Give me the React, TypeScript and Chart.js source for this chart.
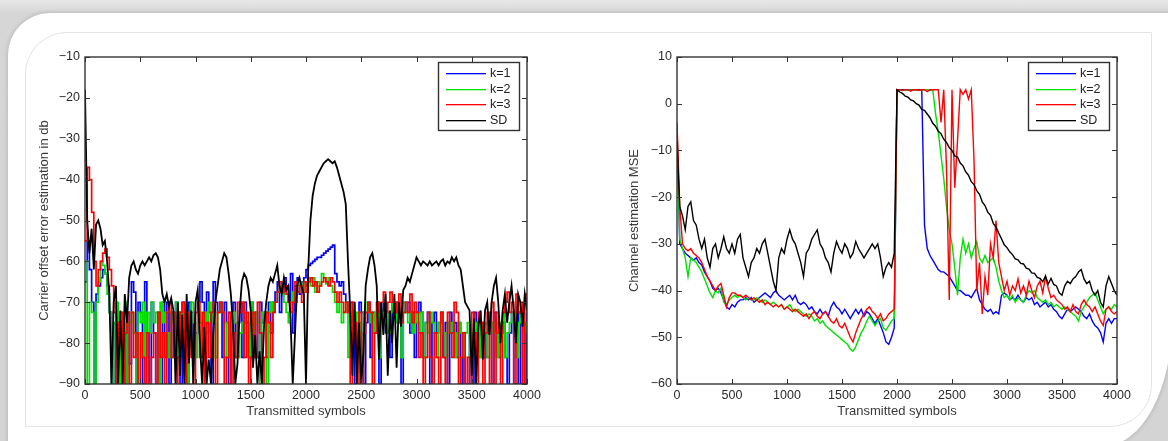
import React, { useEffect, useRef } from 'react';
import { Chart, registerables } from 'chart.js';

Chart.register(...registerables);
Chart.defaults.font.family = '"Liberation Sans", Arial, Helvetica, sans-serif';

// ---------- shared ----------
const SERIES_LABELS = ['k=1', 'k=2', 'k=3', 'SD'];
const SERIES_COLORS = ['rgb(0,0,255)', 'rgb(0,224,0)', 'rgb(255,0,0)', 'rgb(0,0,0)'];
const X_TITLE = 'Transmitted symbols';
const LEFT_X_STEP = 20; // symbols between samples, left panel
const RIGHT_X_STEP = 25; // symbols between samples, right panel

// ---------- left chart: carrier offset error (dB), one value every 20 symbols ----------
const LEFT_Y_TITLE = 'Carrier offset error estimation in db';
const LEFT_K1 = [
  -65, -55, -62,
  -70, -90, -68, -66, -64, -62, -63, -66,
  -72.5, -90, -75, -90, -77.5, -90, -75, -90, -72.5, -85,
  -65, -67.5, -90, -70, -72.5, -90, -65, -77.5, -90, -70,
  -77.5, -90, -72.5, -90, -70, -83.5, -70, -90, -72.5, -83.5,
  -70, -72.5, -90, -70, -75, -90, -70, -72.5, -83.5, -77.5,
  -70, -65, -70, -83.5, -67.5, -72.5, -90, -65, -70, -72.5,
  -70, -83.5, -70, -75, -90, -77.5, -70, -83.5, -75, -70,
  -83.5, -70, -75, -83.5, -70, -83.5, -72.5, -83.5, -70, -75,
  -72.5, -83.5, -70, -77.5, -70, -67.5, -65, -72.5, -68, -64,
  -66, -70, -63, -77.5, -66, -64, -68, -65, -64, -62,
  -61, -60.5, -60, -59.5, -59, -59, -58.5, -58, -57.5, -57, -56.5, -56,
  -63, -65, -66, -65, -68, -70, -72.5, -70,
  -75, -90, -77.5, -70, -72.5, -90, -75, -70, -83.5, -72.5,
  -77.5, -70, -90, -72.5, -70, -77.5, -72.5, -83.5, -70, -72.5,
  -70, -75, -90, -70, -72.5, -70, -77.5, -72.5, -83.5, -72.5,
  -70, -72.5, -83.5, -75, -72.5, -90, -75, -72.5, -77.5, -75,
  -72.5, -83.5, -75, -90, -72.5, -77.5, -75, -83.5, -75, -90,
  -83.5, -90, -90, -77.5, -90, -72.5, -75, -83.5, -77.5, -75,
  -83.5, -77.5, -75, -90, -72.5, -77.5, -83.5, -77.5, -75, -83.5,
  -90, -77.5, -72.5, -90, -90, -72.5, -90, -75, -90, -72.5,
];
const LEFT_K2 = [
  -60, -90, -70,
  -72.5, -90, -70, -65, -60, -61, -63, -68,
  -72.5, -90, -75, -70, -90, -72.5, -83.5, -70, -90, -75,
  -72.5, -77.5, -90, -72.5, -75, -70, -83.5, -72.5, -77.5, -70,
  -75, -72.5, -90, -70, -75, -72.5, -77.5, -83.5, -72.5, -75,
  -70, -83.5, -72.5, -77.5, -75, -90, -72.5, -70, -75, -83.5,
  -72.5, -75, -83.5, -72.5, -77.5, -70, -72.5, -75, -83.5, -72.5,
  -70, -72.5, -83.5, -75, -72.5, -77.5, -72.5, -75, -83.5, -77.5,
  -75, -72.5, -77.5, -83.5, -70, -77.5, -72.5, -75, -90, -72.5,
  -75, -90, -72.5, -70, -72.5, -70, -67.5, -66, -68, -70,
  -72.5, -75, -70, -67.5, -70, -66, -65, -67.5, -65, -66,
  -64, -66, -64, -67.5, -65, -66, -63, -64, -65.5, -64, -66, -67.5,
  -70, -72.5, -70, -75, -72.5, -70, -83.5, -72.5,
  -75, -77.5, -72.5, -75, -83.5, -72.5, -70, -72.5, -75, -77.5,
  -72.5, -70, -83.5, -72.5, -75, -72.5, -77.5, -72.5, -70, -72.5,
  -75, -72.5, -83.5, -70, -72.5, -75, -72.5, -77.5, -72.5, -75,
  -77.5, -72.5, -83.5, -75, -77.5, -72.5, -75, -77.5, -83.5, -75,
  -72.5, -77.5, -83.5, -75, -77.5, -75, -83.5, -77.5, -75, -77.5,
  -83.5, -77.5, -75, -83.5, -77.5, -75, -77.5, -83.5, -75, -77.5,
  -75, -83.5, -77.5, -75, -77.5, -83.5, -75, -77.5, -72.5, -83.5,
  -77.5, -75, -72.5, -77.5, -83.5, -75, -72.5, -77.5, -75, -77.5,
];
const LEFT_K3 = [
  -55, -37, -40,
  -48, -60, -66, -62, -60, -58, -57, -59,
  -62, -66, -72.5, -90, -75, -72.5, -90, -77.5, -72.5, -90,
  -72.5, -83.5, -77.5, -90, -77.5, -83.5, -90, -77.5, -90, -83.5,
  -77.5, -90, -72.5, -83.5, -77.5, -90, -72.5, -70, -83.5, -72.5,
  -90, -83.5, -72.5, -70, -90, -77.5, -72.5, -83.5, -90, -72.5,
  -70, -83.5, -72.5, -90, -75, -83.5, -72.5, -70, -90, -72.5,
  -70, -72.5, -90, -83.5, -72.5, -90, -77.5, -83.5, -70, -72.5,
  -70, -83.5, -72.5, -90, -83.5, -72.5, -83.5, -70, -77.5, -90,
  -83.5, -72.5, -75, -83.5, -72.5, -70, -67.5, -65, -67.5, -66,
  -68, -70, -72.5, -70, -65, -67.5, -66, -70, -65, -67.5,
  -65, -64, -66, -65, -67.5, -66, -65, -64, -65, -66, -64, -65,
  -67.5, -70, -67.5, -70, -72.5, -70, -72.5, -90,
  -70, -75, -90, -72.5, -90, -77.5, -72.5, -70, -72.5, -90,
  -77.5, -70, -72.5, -70, -67.5, -72.5, -70, -67.5, -70, -72.5,
  -70, -68, -75, -72.5, -70, -72.5, -68, -75, -70, -72.5,
  -83.5, -77.5, -90, -83.5, -72.5, -83.5, -90, -77.5, -83.5, -90,
  -72.5, -83.5, -90, -72.5, -77.5, -83.5, -70, -72.5, -90, -83.5,
  -77.5, -90, -83.5, -90, -72.5, -77.5, -90, -72.5, -75, -90,
  -77.5, -72.5, -90, -70, -90, -72.5, -77.5, -90, -72.5, -70,
  -67.5, -72.5, -70, -90, -68, -72.5, -70, -90, -68, -72.5,
];
const LEFT_SD = [
  -18, -50, -58,
  -52, -62, -51, -50, -52, -56, -55, -60,
  -68, -90, -70, -66, -90, -72, -90, -68,
  -75, -64,
  -61, -60, -62, -63, -61, -60, -61, -60, -59, -60, -58.5, -58, -59, -62,
  -68, -70, -68, -71, -69, -72,
  -90, -70, -88, -73, -90, -68, -85, -72, -90, -70,
  -67, -80, -90, -76, -90, -84, -90, -78,
  -70, -66, -62, -60, -58, -59, -63, -68,
  -76, -90, -85, -72, -65, -63, -64, -67,
  -72, -86, -78, -90, -82, -90, -76, -70,
  -66, -64, -65, -63, -61, -66, -68, -64, -67, -66, -74, -90, -78, -66, -64, -66, -68,
  -90,
  -62, -50, -44, -41, -39, -38, -37, -36, -35.5, -35, -35.5, -36, -35.5, -37, -39, -41, -43, -46,
  -60, -72, -88, -70, -90, -75, -90, -82, -66, -62,
  -59, -58, -61, -66,
  -84, -70, -78, -68, -88, -72, -80, -68, -86, -70, -76, -67,
  -66, -64, -65, -63, -61,
  -59, -60, -61, -60, -60.5, -61, -60, -61, -60.5, -60, -61, -60, -59.5, -61, -60, -60.5, -59, -60, -59, -61, -62,
  -66, -70, -71,
  -72, -88, -74, -90, -76, -72, -84, -72, -70, -78, -70, -66, -64, -70, -80, -72, -68, -75, -70, -66,
  -72, -80, -68, -70, -76, -68, -72,
];

// ---------- right chart: channel estimation MSE, one value every 25 symbols ----------
const RIGHT_Y_TITLE = 'Channel estimation MSE';
const RIGHT_K1 = [
  -5, -30, -31, -32, -32.5, -33, -33.5, -33, -34, -34.5, -36, -37, -38, -39.5, -40, -39.5, -40.5, -42, -43.5, -44,
  -43, -43.5, -42.5, -42, -42, -41.5, -42, -41.5, -42.5, -42, -41.5, -41, -40.5, -41, -41.5, -40.5, -40, -41, -41.5, -42,
  -41.5, -41, -42, -41, -42.5, -43, -42.5, -43, -44, -43.5, -44.5, -45, -44, -45, -44.5, -45.5, -43.5, -42.5, -43.5, -44,
  -45, -44, -45, -46, -45, -44, -45, -44, -45.5, -44.5, -45, -46, -47, -46, -47.5, -49, -51, -51.5, -50, -48,
  3, 3, 3, 3, 3, 3, 3, 3, 3, 3, -26, -31, -32.5, -33.5, -34.5, -35.5, -36, -36, -36.5, -37,
  -38, -39, -40, -40, -40.5, -41, -41, -41.5, -40.5, -39.5, -42, -43, -44, -44.5, -44, -45, -44.5, -45, -41, -40.5,
  -41, -42, -41.5, -42, -41, -42, -42.5, -41.5, -42, -41.5, -43, -42.5, -43.5, -43, -42.5, -43.5, -43, -44, -44.5, -45.5,
  -46, -45, -44, -44.5, -44, -43.5, -44, -44.5, -45.5, -46, -45, -46.5, -47.5, -48, -49, -51, -47, -46, -47, -46,
  -46,
];
const RIGHT_K2 = [
  -5, -29, -31, -33, -37, -33, -33.5, -34, -35, -36, -37.5, -39, -40.5, -41.5, -40, -40.5, -39.5, -42.5, -43, -42,
  -41.5, -41, -41.5, -41, -41.5, -42, -41.5, -42, -42, -41.5, -42, -42.5, -42, -42.5, -43, -42.5, -43, -43.5, -43, -44,
  -43.5, -43, -44, -44.5, -44, -44.5, -45, -45.5, -45, -45.5, -46.5, -46, -47, -46.5, -47.5, -48, -48.5, -49, -49.5, -50,
  -50.5, -51, -51.5, -52.5, -53, -52, -50.5, -49, -48, -46.5, -45.5, -46.5, -47.5, -46.5, -46, -48, -48.5, -47.5, -46.5, -46,
  3, 3, 2.8, 3, 3, 2.9, 3, 3, 2.8, 3, 3, 3, 2.9, 3, -2, -6, -11, -16, -22, -27,
  -30, -35, -41, -33, -29, -32, -30, -33, -31, -29.5, -33, -34, -32.5, -34, -33.5, -33, -35, -38, -40, -41.5,
  -41, -42, -41, -42.5, -41.5, -42, -42.5, -41, -40, -40.5, -40, -41.5, -42, -42.5, -42, -43, -42.5, -43.5, -43, -43.5,
  -44, -43.5, -44, -44.5, -45, -45.5, -46.5, -44.5, -43.5, -42.5, -41.5, -41, -40.5, -42, -43.5, -45, -44, -43.5, -44, -43,
  -43.5,
];
const RIGHT_K3 = [
  -4, -22, -30, -31, -31.5, -31, -32, -32.5, -33, -34, -35.5, -37, -38, -39, -40, -39, -38.5, -41, -43.5, -41.5,
  -40.5, -40.5, -41, -41, -41.5, -41, -41.5, -42, -41.5, -42, -42.5, -42, -43, -42.5, -43, -43.5, -43, -43.5, -43, -44,
  -43.5, -44, -44.5, -44, -44.5, -45, -45.5, -45, -46, -45, -44.5, -45.5, -46, -45, -44.5, -45.5, -46.5, -47, -46, -47.5,
  -48, -47, -48.5, -50, -51, -49, -47.5, -46, -45, -44, -43.5, -44.5, -45, -46, -45, -46.5, -46, -45, -44.5, -44,
  3, 3, 2.8, 3, 3, 2.7, 3, 3, 2.9, 3, 3, 2.6, 3, 3, 3, 3, -4, 3, -14, -42,
  3, -18, -8, 3, 2, 3, 1, 3, -12, -40, -34, -45, -37, -41, -30, -33, -25, -34, -37, -40,
  -38, -41, -39, -40, -37.5, -40.5, -39, -41, -38, -40, -41.5, -39, -38, -40.5, -37, -39.5, -41.5, -41, -42, -42.5,
  -43, -44, -43.5, -44.5, -43, -44.5, -45, -43, -42, -43, -43.5, -44.5, -43.5, -45, -46.5, -47.5, -44, -43.5, -44.5, -45,
  -44.5,
];
const RIGHT_SD = [
  -8, -22, -24, -27, -22, -21, -25, -26, -29, -31, -29, -33, -35, -31, -30, -33, -31, -28.5, -31, -32,
  -30, -32, -29, -28, -33, -35, -37, -34, -33, -31, -32, -30, -29, -32, -35, -38, -40, -33, -31, -32,
  -29, -27, -29, -30, -32, -34, -37, -32, -31, -29, -28, -27, -30, -31, -33, -34, -36, -32, -29.5, -31,
  -32, -30, -31, -33, -32, -29.5, -31, -32, -33, -32, -31, -30, -31, -30, -33, -37, -35, -34, -35, -32,
  3, 2.5, 2.2, 1.6, 1.4, 0.8, 0.6, 0, -0.3, -1.2, -1.4, -2.2, -3, -4.2, -4.8, -5.9, -6.4, -7.6, -8.3, -9.4,
  -10, -11.2, -11.4, -12.7, -13.3, -14.6, -15.3, -16.7, -17.3, -18.6, -19.4, -21, -21.8, -23.2, -23.9, -25.6, -26.4, -27.7, -28.9, -30.2,
  -30.8, -31.7, -32.3, -33.2, -33.4, -34.2, -34.3, -35.2, -35.4, -36.2, -36.3, -37.2, -37.4, -38.1, -36.9, -38.6, -37.4, -38.7, -39, -40.5,
  -41, -39, -38, -38.5, -37.5, -37, -36, -35.5, -37.5, -38.5, -38, -40, -41, -40, -42.5, -43.5, -39, -37, -38.5, -40,
  -41,
];

// ---------- helpers ----------
const fmtTick = (v: number | string) => {
  const n = Number(v);
  return n < 0 ? '\u2212' + Math.abs(n) : String(n);
};

const matlabPlugin = {
  id: 'matlabAxes',
  afterDatasetsDraw(chart: any) {
    const { ctx, chartArea: a, scales } = chart;
    ctx.save();
    ctx.strokeStyle = '#333';
    ctx.lineWidth = 1;
    const L = 5;
    ctx.beginPath();
    for (const t of scales.x.ticks) {
      const p = Math.round(scales.x.getPixelForValue(t.value)) + 0.5;
      ctx.moveTo(p, a.bottom);
      ctx.lineTo(p, a.bottom - L);
      ctx.moveTo(p, a.top);
      ctx.lineTo(p, a.top + L);
    }
    for (const t of scales.y.ticks) {
      const p = Math.round(scales.y.getPixelForValue(t.value)) + 0.5;
      ctx.moveTo(a.left, p);
      ctx.lineTo(a.left + L, p);
      ctx.moveTo(a.right, p);
      ctx.lineTo(a.right - L, p);
    }
    ctx.stroke();
    ctx.lineWidth = 1.4;
    ctx.strokeRect(a.left, a.top, a.right - a.left, a.bottom - a.top);
    ctx.restore();
  },
  afterDraw(chart: any) {
    const { ctx, chartArea: a } = chart;
    const w = 81;
    const h = 68;
    const x0 = Math.round(a.right - 8 - w);
    const y0 = Math.round(a.top + 5);
    ctx.save();
    ctx.globalAlpha = 1;
    ctx.globalCompositeOperation = 'source-over';
    ctx.fillStyle = '#ffffff';
    ctx.fillRect(x0, y0, w, h);
    ctx.strokeStyle = '#333333';
    ctx.lineWidth = 1.4;
    ctx.strokeRect(x0 + 0.5, y0 + 0.5, w, h);
    for (let i = 0; i < SERIES_LABELS.length; i++) {
      const y = Math.round(y0 + 11 + i * 15.5);
      ctx.fillStyle = SERIES_COLORS[i];
      ctx.fillRect(x0 + 8, y, 40, 1.3);
    }
    ctx.font = '12.5px "Liberation Sans", Arial, sans-serif';
    ctx.textBaseline = 'middle';
    ctx.textAlign = 'left';
    ctx.fillStyle = '#222222';
    for (let i = 0; i < SERIES_LABELS.length; i++) {
      const y = Math.round(y0 + 11 + i * 15.5) + 0.5;
      ctx.fillText(SERIES_LABELS[i], x0 + 52, y);
    }
    ctx.restore();
  },
};

type PanelProps = {
  left: number;
  top: number;
  width: number;
  height: number;
  xStep: number;
  series: number[][];
  yMin: number;
  yMax: number;
  yTitle: string;
  yAxisWidth: number;
  yTitlePad: number;
  padRight: number;
  stepped: boolean[];
  widths: number[];
};

function MatlabPanel(p: PanelProps) {
  const ref = useRef<HTMLCanvasElement>(null);
  useEffect(() => {
    const datasets = p.series.map((vals, si) => ({
      label: SERIES_LABELS[si],
      data: vals.map((y, i) => ({ x: i * p.xStep, y })),
      borderColor: SERIES_COLORS[si],
      backgroundColor: SERIES_COLORS[si],
      borderWidth: p.widths[si],
      pointRadius: 0,
      fill: false,
      tension: 0,
      stepped: p.stepped[si],
      order: 3 - si,
    }));
    const tickFont = { size: 12.5 };
    const chart = new Chart(ref.current as HTMLCanvasElement, {
      type: 'line',
      data: { datasets },
      plugins: [matlabPlugin],
      options: {
        animation: false,
        responsive: false,
        maintainAspectRatio: false,
        events: [],
        layout: { padding: { left: 0, top: 17, right: p.padRight, bottom: 0 } },
        plugins: { legend: { display: false }, tooltip: { enabled: false } },
        scales: {
          x: {
            type: 'linear',
            min: 0,
            max: 4000,
            grid: { display: false, drawTicks: false },
            border: { display: false },
            ticks: {
              stepSize: 500,
              autoSkip: false,
              maxRotation: 0,
              padding: 4,
              color: '#2b2b2b',
              font: tickFont,
              callback: fmtTick,
            },
            title: {
              display: true,
              text: X_TITLE,
              color: '#3a3a3a',
              font: { size: 13 },
              padding: { top: 0, bottom: 6 },
            },
            afterFit: (s: any) => {
              s.height = 41;
            },
          },
          y: {
            type: 'linear',
            min: p.yMin,
            max: p.yMax,
            grid: { display: false, drawTicks: false },
            border: { display: false },
            ticks: {
              stepSize: 10,
              autoSkip: false,
              padding: 5,
              color: '#2b2b2b',
              font: tickFont,
              callback: fmtTick,
            },
            title: {
              display: true,
              text: p.yTitle,
              color: '#3a3a3a',
              font: { size: 13 },
              padding: { top: p.yTitlePad, bottom: 0 },
            },
            afterFit: (s: any) => {
              s.width = p.yAxisWidth;
            },
          },
        },
      } as any,
    });
    return () => chart.destroy();
  }, []);
  return (
    <canvas
      ref={ref}
      width={p.width}
      height={p.height}
      style={{ position: 'absolute', left: p.left, top: p.top, width: p.width, height: p.height }}
    />
  );
}

export default function App() {
  return (
    <div
      style={{
        position: 'fixed',
        left: 0,
        top: 0,
        width: 1168,
        height: 441,
        overflow: 'hidden',
        background: 'linear-gradient(#e8e8e8 0px, #d6d6d6 13px, #d4d4d4 100%)',
      }}
    >
      <div
        style={{
          position: 'absolute',
          left: 8,
          top: 13,
          width: 1164,
          height: 433,
          background: '#ffffff',
          borderTopLeftRadius: 42,
          borderBottomRightRadius: '68px 125px',
          boxShadow: '0 0 5px rgba(0,0,0,0.18)',
        }}
      />
      <div
        style={{
          position: 'absolute',
          left: 25,
          top: 32,
          width: 1127,
          height: 395,
          boxSizing: 'border-box',
          border: '1px solid #e4e4e4',
          borderTopLeftRadius: 42,
          borderBottomRightRadius: 42,
        }}
      />
      <MatlabPanel
        left={20}
        top={40}
        width={530}
        height={385}
        xStep={LEFT_X_STEP}
        series={[LEFT_K1, LEFT_K2, LEFT_K3, LEFT_SD]}
        yMin={-90}
        yMax={-10}
        yTitle={LEFT_Y_TITLE}
        yAxisWidth={65}
        yTitlePad={17}
        padRight={23}
        stepped={[true, true, true, false]}
        widths={[1.7, 1.7, 1.7, 1.8]}
      />
      <MatlabPanel
        left={600}
        top={40}
        width={545}
        height={385}
        xStep={RIGHT_X_STEP}
        series={[RIGHT_K1, RIGHT_K2, RIGHT_K3, RIGHT_SD]}
        yMin={-60}
        yMax={10}
        yTitle={RIGHT_Y_TITLE}
        yAxisWidth={77}
        yTitlePad={27}
        padRight={28}
        stepped={[false, false, false, false]}
        widths={[1.4, 1.4, 1.4, 1.4]}
      />
    </div>
  );
}
